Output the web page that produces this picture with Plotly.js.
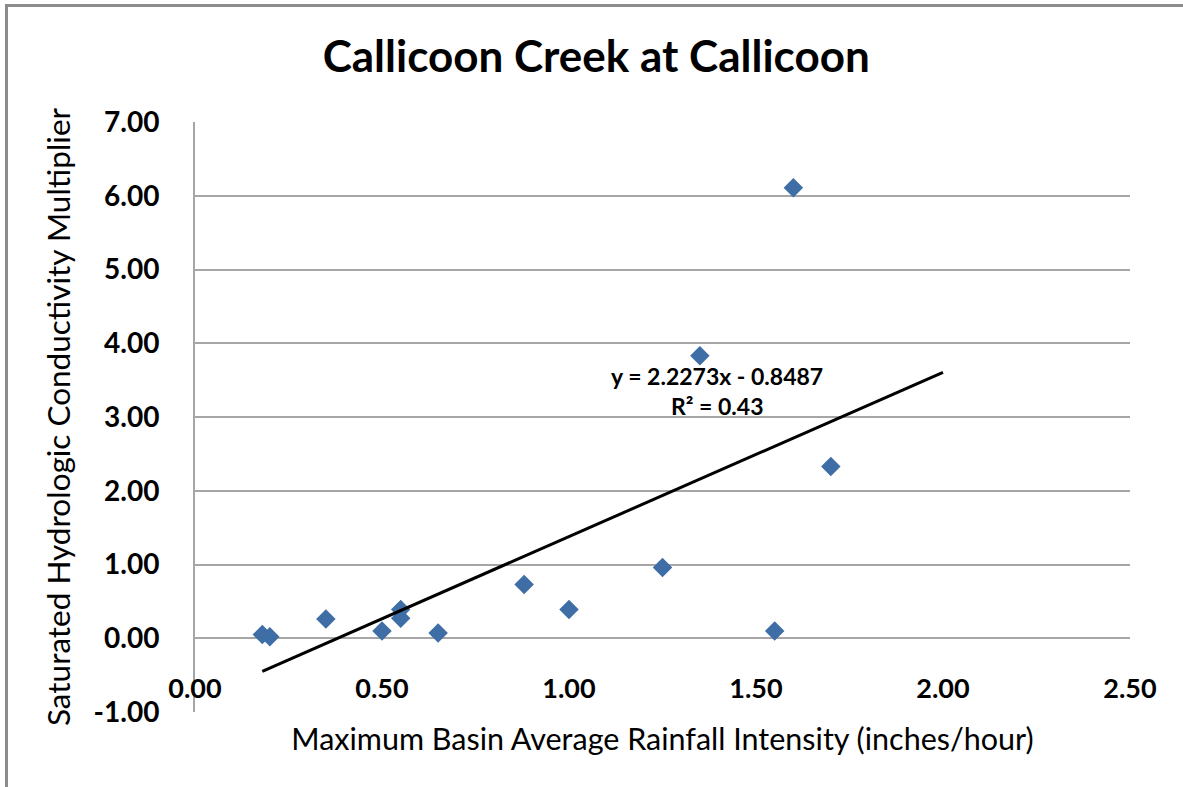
<!DOCTYPE html>
<html>
<head>
<meta charset="utf-8">
<script src="https://cdn.plot.ly/plotly-3.0.1.min.js"></script>
<style>html,body{margin:0;padding:0;background:#fff;}#chart{width:1183px;height:787px;}</style>
</head>
<body>
<div id="chart"></div>
<script>
// Data
const rainfallIntensity = [0.18, 0.20, 0.35, 0.50, 0.55, 0.55, 0.65, 0.88, 1.00, 1.25, 1.35, 1.55, 1.60, 1.70];
const conductivityMultiplier = [0.05, 0.02, 0.26, 0.10, 0.39, 0.27, 0.07, 0.73, 0.39, 0.96, 3.83, 0.10, 6.11, 2.33];
const trendSlope = 2.2273;
const trendIntercept = -0.8487;
const trendXRange = [0.18, 2.00];
const equationLabel = "y = 2.2273x - 0.8487";
const r2Label = "R² = 0.43";
const xTickValues = [0, 0.5, 1.0, 1.5, 2.0, 2.5];
const yTickValues = [-1, 0, 1, 2, 3, 4, 5, 6, 7];

const FONT = "Lato, 'Open Sans', sans-serif";

const trendY = trendXRange.map(x => trendSlope * x + trendIntercept);
const xTickText = xTickValues.map(v => v.toFixed(2));
const yTickText = yTickValues.map(v => v.toFixed(2));

const traces = [
  {
    x: rainfallIntensity,
    y: conductivityMultiplier,
    type: 'scatter',
    mode: 'markers',
    marker: {symbol: 'diamond', size: 15, color: '#3F6EA6', line: {width: 0}},
    hoverinfo: 'x+y',
    showlegend: false
  },
  {
    x: trendXRange,
    y: trendY,
    type: 'scatter',
    mode: 'lines',
    line: {color: '#000000', width: 3},
    showlegend: false
  }
];

const layout = {
  width: 1183,
  height: 787,
  margin: {l: 195, r: 53, t: 122, b: 75},
  paper_bgcolor: '#ffffff',
  plot_bgcolor: '#ffffff',
  font: {family: FONT, color: '#000000'},
  showlegend: false,
  title: {
    text: 'Callicoon Creek at Callicoon',
    font: {family: FONT, size: 44, weight: 'bold', color: '#000000'},
    x: 0.504, xanchor: 'center',
    y: 0.928, yanchor: 'middle'
  },
  xaxis: {
    range: [0, 2.5],
    tickvals: xTickValues,
    ticktext: xTickText,
    showgrid: false,
    zeroline: false,
    showline: false,
    ticks: '',
    anchor: 'free',
    position: 0.072,
    tickfont: {family: FONT, size: 27, weight: 'bold', color: '#000000'},
    title: {
      text: 'Maximum Basin Average Rainfall Intensity (inches/hour)',
      font: {family: FONT, size: 30.5, color: '#000000'},
      standoff: 26
    }
  },
  yaxis: {
    range: [-1, 7],
    tickvals: yTickValues,
    ticktext: yTickText,
    showgrid: true,
    gridcolor: '#a6a6a6',
    gridwidth: 2,
    zeroline: false,
    showline: true,
    linecolor: '#a6a6a6',
    linewidth: 2,
    ticks: '',
    ticklabelstandoff: 28,
    tickfont: {family: FONT, size: 28, weight: 'bold', color: '#000000'},
    title: {
      text: 'Saturated Hydrologic Conductivity Multiplier',
      font: {family: FONT, size: 31.5, color: '#000000'},
      standoff: 14
    }
  },
  annotations: [
    {x: 1.396, y: 3.56, xref: 'x', yref: 'y', text: equationLabel, showarrow: false,
     font: {family: FONT, size: 23, weight: 'bold', color: '#000000'}},
    {x: 1.396, y: 3.15, xref: 'x', yref: 'y', text: r2Label, showarrow: false,
     font: {family: FONT, size: 23, weight: 'bold', color: '#000000'}}
  ],
  shapes: [
    {type: 'line', xref: 'paper', yref: 'paper', x0: -0.2032, x1: 1.06, y0: 1.1975, y1: 1.1975,
     line: {color: '#8c8c8c', width: 3}},
    {type: 'line', xref: 'paper', yref: 'paper', x0: -0.2016, x1: -0.2016, y0: 1.2, y1: -0.13,
     line: {color: '#8c8c8c', width: 3}}
  ]
};

Plotly.newPlot('chart', traces, layout, {displayModeBar: false, staticPlot: false});
</script>
</body>
</html>
